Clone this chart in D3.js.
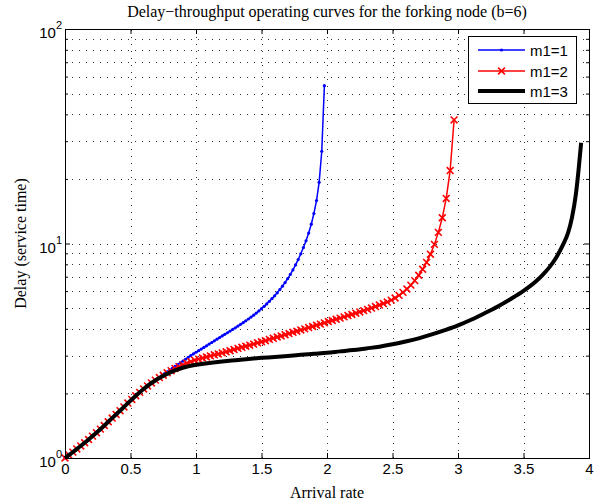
<!DOCTYPE html>
<html>
<head>
<meta charset="utf-8">
<script src="https://cdn.jsdelivr.net/npm/d3@7"></script>
<style>
  body { margin: 0; background: #fff; }
  .sans { font-family: "Liberation Sans", Arial, sans-serif; }
  .serif { font-family: "Liberation Serif", "Times New Roman", serif; }
</style>
</head>
<body>
<div id="chart"></div>
<script>
// m1=1 (blue, dot markers)
const blueX = [
  0, 0.02, 0.04, 0.06, 0.08, 0.1, 0.12, 0.14, 0.16, 0.18,
  0.2, 0.22, 0.24, 0.26, 0.28, 0.3, 0.32, 0.34, 0.36, 0.38,
  0.4, 0.42, 0.44, 0.46, 0.48, 0.5, 0.52, 0.54, 0.56, 0.58,
  0.6, 0.62, 0.64, 0.66, 0.68, 0.7, 0.72, 0.74, 0.76, 0.78,
  0.8, 0.82, 0.84, 0.86, 0.88, 0.9, 0.92, 0.94, 0.96, 0.98,
  1, 1.02, 1.04, 1.06, 1.08, 1.1, 1.12, 1.14, 1.16, 1.18,
  1.2, 1.22, 1.24, 1.26, 1.28, 1.3, 1.32, 1.34, 1.36, 1.38,
  1.4, 1.42, 1.44, 1.46, 1.48, 1.5, 1.52, 1.54, 1.56, 1.58,
  1.6, 1.62, 1.64, 1.66, 1.68, 1.7, 1.72, 1.74, 1.76, 1.78,
  1.8, 1.82, 1.84, 1.86, 1.88, 1.9, 1.92, 1.94, 1.96, 1.98
];
const blueY = [
  1.000, 1.021, 1.042, 1.065, 1.089, 1.113, 1.138, 1.164, 1.191, 1.220,
  1.250, 1.281, 1.312, 1.346, 1.380, 1.418, 1.455, 1.494, 1.535, 1.576,
  1.618, 1.662, 1.706, 1.754, 1.803, 1.851, 1.901, 1.950, 2.000, 2.049,
  2.099, 2.143, 2.190, 2.234, 2.280, 2.328, 2.377, 2.427, 2.472, 2.521,
  2.570, 2.621, 2.673, 2.723, 2.777, 2.831, 2.887, 2.944, 2.999, 3.055,
  3.112, 3.166, 3.221, 3.277, 3.334, 3.396, 3.455, 3.516, 3.581, 3.643,
  3.707, 3.771, 3.837, 3.908, 3.976, 4.046, 4.121, 4.198, 4.276, 4.360,
  4.446, 4.539, 4.634, 4.737, 4.847, 4.966, 5.093, 5.230, 5.376, 5.534,
  5.702, 5.888, 6.095, 6.324, 6.577, 6.855, 7.178, 7.534, 7.943, 8.414,
  8.954, 9.572, 10.30, 11.19, 12.30, 13.80, 15.85, 19.28, 26.92, 54.45
];

// m1=2 (red, x markers)
const redX = [
  0, 0.03, 0.06, 0.09, 0.12, 0.15, 0.18, 0.21, 0.24, 0.27,
  0.3, 0.33, 0.36, 0.39, 0.42, 0.45, 0.48, 0.51, 0.54, 0.57,
  0.6, 0.63, 0.66, 0.69, 0.72, 0.75, 0.78, 0.81, 0.84, 0.87,
  0.9, 0.93, 0.96, 0.99, 1.02, 1.05, 1.08, 1.11, 1.14, 1.17,
  1.2, 1.23, 1.26, 1.29, 1.32, 1.35, 1.38, 1.41, 1.44, 1.47,
  1.5, 1.53, 1.56, 1.59, 1.62, 1.65, 1.68, 1.71, 1.74, 1.77,
  1.8, 1.83, 1.86, 1.89, 1.92, 1.95, 1.98, 2.01, 2.04, 2.07,
  2.1, 2.13, 2.16, 2.19, 2.22, 2.25, 2.28, 2.31, 2.34, 2.37,
  2.4, 2.43, 2.46, 2.49, 2.52, 2.55, 2.58, 2.61, 2.64, 2.67,
  2.7, 2.73, 2.76, 2.79, 2.82, 2.85, 2.88, 2.91, 2.94, 2.97
];
const redY = [
  1.000, 1.032, 1.065, 1.102, 1.138, 1.178, 1.220, 1.265, 1.312, 1.363,
  1.418, 1.476, 1.535, 1.596, 1.662, 1.730, 1.803, 1.875, 1.950, 2.023,
  2.099, 2.168, 2.239, 2.307, 2.371, 2.432, 2.495, 2.553, 2.612, 2.667,
  2.716, 2.767, 2.812, 2.858, 2.891, 2.924, 2.958, 2.992, 3.027, 3.055,
  3.090, 3.126, 3.162, 3.206, 3.243, 3.281, 3.319, 3.357, 3.396, 3.443,
  3.483, 3.524, 3.573, 3.614, 3.664, 3.707, 3.758, 3.802, 3.855, 3.899,
  3.954, 3.999, 4.055, 4.102, 4.159, 4.207, 4.266, 4.325, 4.375, 4.436,
  4.487, 4.550, 4.613, 4.667, 4.732, 4.797, 4.864, 4.932, 5.000, 5.082,
  5.164, 5.248, 5.333, 5.445, 5.572, 5.728, 5.916, 6.138, 6.397, 6.714,
  7.112, 7.586, 8.166, 8.913, 9.908, 11.27, 13.18, 16.22, 21.88, 37.67
];

// m1=3 (black, thick, no markers)
const blackX = [
  0, 0.04, 0.08, 0.12, 0.16, 0.2, 0.24, 0.28, 0.32, 0.36,
  0.4, 0.44, 0.48, 0.52, 0.56, 0.6, 0.64, 0.68, 0.72, 0.76,
  0.8, 0.84, 0.88, 0.92, 0.96, 1, 1.1, 1.2, 1.3, 1.4,
  1.5, 1.6, 1.7, 1.8, 1.9, 2, 2.1, 2.2, 2.3, 2.4,
  2.5, 2.6, 2.7, 2.8, 2.9, 3, 3.1, 3.2, 3.3, 3.4,
  3.5, 3.6, 3.65, 3.7, 3.75, 3.8, 3.84, 3.87, 3.9, 3.92, 3.94
];
const blackY = [
  1.000, 1.042, 1.089, 1.138, 1.191, 1.250, 1.312, 1.380, 1.455, 1.535,
  1.618, 1.706, 1.803, 1.901, 2.000, 2.099, 2.193, 2.280, 2.360, 2.432,
  2.500, 2.559, 2.612, 2.655, 2.692, 2.723, 2.773, 2.818, 2.858, 2.897,
  2.931, 2.958, 2.992, 3.027, 3.062, 3.097, 3.141, 3.184, 3.243, 3.304,
  3.388, 3.491, 3.614, 3.767, 3.945, 4.150, 4.410, 4.720, 5.070, 5.500,
  6.010, 6.700, 7.180, 7.780, 8.610, 9.820, 11.20, 13.20, 17.00, 21.90, 29.50
];

const seriesNames = ["m1=1", "m1=2", "m1=3"];
const xTicks = [0, 0.5, 1, 1.5, 2, 2.5, 3, 3.5, 4];
const xTickLabels = ["0", "0.5", "1", "1.5", "2", "2.5", "3", "3.5", "4"];
const yMajor = [1, 10, 100];
const yExponents = ["0", "1", "2"];
const yMinor = [2, 3, 4, 5, 6, 7, 8, 9, 20, 30, 40, 50, 60, 70, 80, 90];

const W = 602, H = 504;
const margin = { left: 65, top: 29, right: 13, bottom: 46 };
const x0 = margin.left, x1 = W - margin.right;
const y0 = H - margin.bottom, y1 = margin.top;

const svg = d3.select("#chart").append("svg")
    .attr("width", W)
    .attr("height", H);

const x = d3.scaleLinear().domain([0, 4]).range([x0, x1]);
const y = d3.scaleLog().domain([1, 100]).range([y0, y1]);

// dotted grid
const grid = svg.append("g")
    .attr("stroke", "#333")
    .attr("stroke-width", 1)
    .attr("stroke-dasharray", "1,6")
    .attr("shape-rendering", "crispEdges");

grid.selectAll(".gy")
    .data(yMinor.concat([10]))
    .enter().append("line")
    .attr("x1", x0).attr("x2", x1)
    .attr("y1", d => Math.round(y(d)) + 0.5)
    .attr("y2", d => Math.round(y(d)) + 0.5);

grid.selectAll(".gx")
    .data(xTicks.slice(1, -1))
    .enter().append("line")
    .attr("y1", y0).attr("y2", y1)
    .attr("x1", d => Math.round(x(d)) + 0.5)
    .attr("x2", d => Math.round(x(d)) + 0.5);

// curves
const line = d3.line()
    .x(d => x(d[0]))
    .y(d => y(d[1]));

const blueData = blueX.map((v, i) => [v, blueY[i]]);
const redData = redX.map((v, i) => [v, redY[i]]);
const blackData = blackX.map((v, i) => [v, blackY[i]]);

svg.append("path")
    .datum(blueData)
    .attr("fill", "none")
    .attr("stroke", "#0000ff")
    .attr("stroke-width", 1.5)
    .attr("d", line);

svg.append("g").selectAll("circle")
    .data(blueData)
    .enter().append("circle")
    .attr("cx", d => x(d[0]))
    .attr("cy", d => y(d[1]))
    .attr("r", 1.6)
    .attr("fill", "#0000ff");

svg.append("path")
    .datum(redData)
    .attr("fill", "none")
    .attr("stroke", "#ff0000")
    .attr("stroke-width", 1.5)
    .attr("d", line);

const xMark = function(cx, cy, s) {
    return "M" + (cx - s) + "," + (cy - s) + "L" + (cx + s) + "," + (cy + s) +
        "M" + (cx - s) + "," + (cy + s) + "L" + (cx + s) + "," + (cy - s);
};

svg.append("g").selectAll("path")
    .data(redData)
    .enter().append("path")
    .attr("d", d => xMark(x(d[0]), y(d[1]), 3.4))
    .attr("stroke", "#ff0000")
    .attr("stroke-width", 1.6)
    .attr("fill", "none");

svg.append("path")
    .datum(blackData)
    .attr("fill", "none")
    .attr("stroke", "#000")
    .attr("stroke-width", 4)
    .attr("stroke-linejoin", "round")
    .attr("d", line.curve(d3.curveMonotoneX));

// axes with inward ticks
const axisStyle = function(g) {
    g.selectAll(".domain").remove();
    g.selectAll(".tick line").attr("stroke", "#000");
};

svg.append("g")
    .attr("transform", "translate(0," + y0 + ")")
    .call(d3.axisBottom(x).tickValues(xTicks)
        .tickFormat((d, i) => xTickLabels[i])
        .tickSize(-5).tickPadding(5))
    .call(axisStyle)
    .call(g => g.selectAll("text")
        .attr("font-size", 15)
        .attr("fill", "#000")
        .attr("font-family", "Liberation Sans, Arial, sans-serif"));

svg.append("g")
    .attr("transform", "translate(0," + y1 + ")")
    .call(d3.axisTop(x).tickValues(xTicks).tickFormat("").tickSize(-5))
    .call(axisStyle);

svg.append("g")
    .attr("transform", "translate(" + x0 + ",0)")
    .call(d3.axisLeft(y).tickValues(yMajor).tickFormat("").tickSize(-5))
    .call(axisStyle);

svg.append("g")
    .attr("transform", "translate(" + x0 + ",0)")
    .call(d3.axisLeft(y).tickValues(yMinor).tickFormat("").tickSize(-3))
    .call(axisStyle);

svg.append("g")
    .attr("transform", "translate(" + x1 + ",0)")
    .call(d3.axisRight(y).tickValues(yMajor).tickFormat("").tickSize(-5))
    .call(axisStyle);

svg.append("g")
    .attr("transform", "translate(" + x1 + ",0)")
    .call(d3.axisRight(y).tickValues(yMinor).tickFormat("").tickSize(-3))
    .call(axisStyle);

// axes box
svg.append("rect")
    .attr("x", x0 + 0.5)
    .attr("y", y1 + 0.5)
    .attr("width", x1 - x0)
    .attr("height", y0 - y1)
    .attr("fill", "none")
    .attr("stroke", "#000")
    .attr("stroke-width", 1)
    .attr("shape-rendering", "crispEdges");

// log tick labels 10^k
const yLabels = svg.append("g").attr("class", "sans");
yMajor.forEach(function(v, i) {
    const t = yLabels.append("text")
        .attr("x", x0 - 3)
        .attr("y", y(v) + 9)
        .attr("text-anchor", "end")
        .attr("font-size", 15)
        .text("10");
    t.append("tspan")
        .attr("font-size", 11)
        .attr("dy", -9)
        .text(yExponents[i]);
});

// title and axis labels
svg.append("text")
    .attr("class", "serif")
    .attr("x", (x0 + x1) / 2)
    .attr("y", 17)
    .attr("text-anchor", "middle")
    .attr("font-size", 16)
    .text("Delay\u2212throughput operating curves for the forking node (b=6)");

svg.append("text")
    .attr("class", "serif")
    .attr("x", (x0 + x1) / 2)
    .attr("y", 498)
    .attr("text-anchor", "middle")
    .attr("font-size", 16)
    .text("Arrival rate");

svg.append("text")
    .attr("class", "serif")
    .attr("transform", "translate(26," + ((y0 + y1) / 2) + ") rotate(-90)")
    .attr("text-anchor", "middle")
    .attr("font-size", 16)
    .text("Delay (service time)");

// legend
const legend = svg.append("g").attr("class", "sans");
legend.append("rect")
    .attr("x", 468.5).attr("y", 36.5)
    .attr("width", 108).attr("height", 67)
    .attr("fill", "#fff")
    .attr("stroke", "#000")
    .attr("stroke-width", 1)
    .attr("shape-rendering", "crispEdges");

const legendColors = ["#0000ff", "#ff0000", "#000"];
const legendWidths = [1.5, 1.5, 4];
const legendY = [50, 71, 91];
seriesNames.forEach(function(name, i) {
    legend.append("line")
        .attr("x1", 478).attr("x2", 525)
        .attr("y1", legendY[i]).attr("y2", legendY[i])
        .attr("stroke", legendColors[i])
        .attr("stroke-width", legendWidths[i]);
    legend.append("text")
        .attr("x", 530)
        .attr("y", legendY[i] + 5.5)
        .attr("font-size", 15)
        .text(name);
});
legend.append("circle")
    .attr("cx", 501.5).attr("cy", legendY[0]).attr("r", 1.6)
    .attr("fill", "#0000ff");
legend.append("path")
    .attr("d", xMark(501.5, legendY[1], 3.4))
    .attr("stroke", "#ff0000")
    .attr("stroke-width", 1.6);
</script>
</body>
</html>
